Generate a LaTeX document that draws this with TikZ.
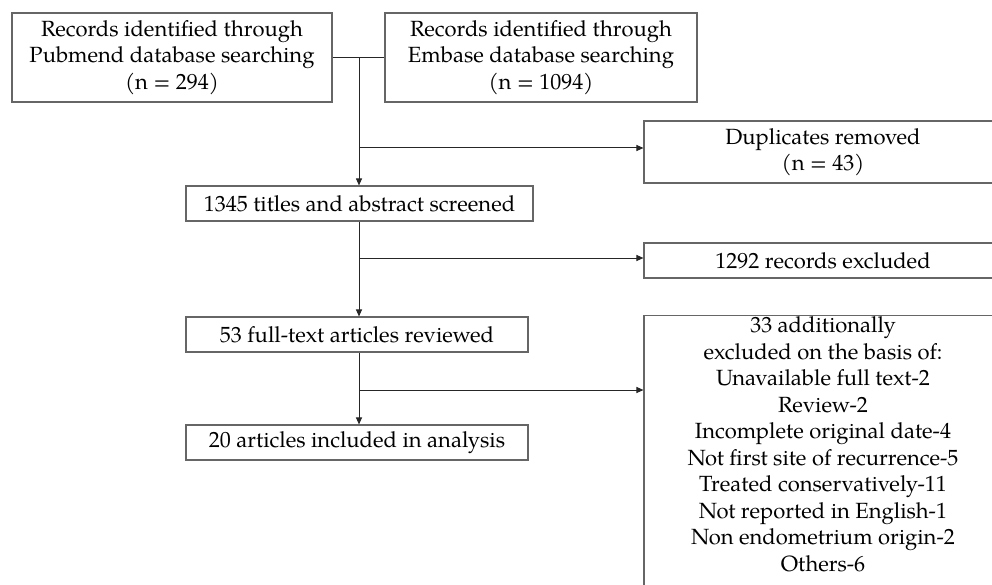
\documentclass[tikz,border=0pt]{standalone}
\usepackage{fontspec}
\setmainfont{TeX Gyre Pagella}
\usetikzlibrary{arrows.meta}
\begin{document}
\begin{tikzpicture}[x=1pt,y=-1pt,
  box/.style={draw=black!60, line width=1.1pt, rectangle, inner sep=0pt, align=center,
    font=\fontsize{22}{26.5}\selectfont},
  conn/.style={draw=black!85, line width=1pt},
  arr/.style={conn, -{Triangle[length=7pt,width=6pt]}}]
\clip (0,0) rectangle (992,585);
\node[box, minimum width=320, minimum height=89] (pub) at (172,57.5) {Records identified through\\Pubmend database searching\\(n = 294)};
\node[box, minimum width=312, minimum height=89] (emb) at (541,57.5) {Records identified through\\Embase database searching\\(n = 1094)};
\node[box, minimum width=358, minimum height=62] (dup) at (823,152) {Duplicates removed\\(n = 43)};
\node[box, minimum width=347, minimum height=35] (scr) at (359.5,203.5) {1345 titles and abstract screened};
\node[box, minimum width=358, minimum height=35] (exc) at (823,260.5) {1292 records excluded};
\node[box, minimum width=342, minimum height=35] (full) at (357,334.5) {53 full-text articles reviewed};
\node[box, minimum width=342, minimum height=35] (inc) at (357,442.5) {20 articles included in analysis};
\node[box, minimum width=358, anchor=north, inner ysep=1pt] (add) at (823,315) {33 additionally\\excluded on the basis of:\\Unavailable full text-2\\Review-2\\Incomplete original date-4\\Not first site of recurrence-5\\Treated conservatively-11\\Not reported in English-1\\Non endometrium origin-2\\Others-6\rule[-40pt]{0pt}{40pt}};
\coordinate (j0) at (359,57.5);
\coordinate (b1) at (359,148);
\coordinate (b2) at (359,258);
\coordinate (b3) at (359,390);
\draw[conn] (pub.east) -- (emb.west);
\draw[arr] (j0) -- (j0 |- scr.north);
\draw[arr] (b1) -- (b1 -| dup.west);
\draw[arr] (j0 |- scr.south) -- (j0 |- full.north);
\draw[arr] (b2) -- (b2 -| exc.west);
\draw[arr] (j0 |- full.south) -- (j0 |- inc.north);
\draw[arr] (b3) -- (b3 -| add.west);
\end{tikzpicture}
\end{document}
